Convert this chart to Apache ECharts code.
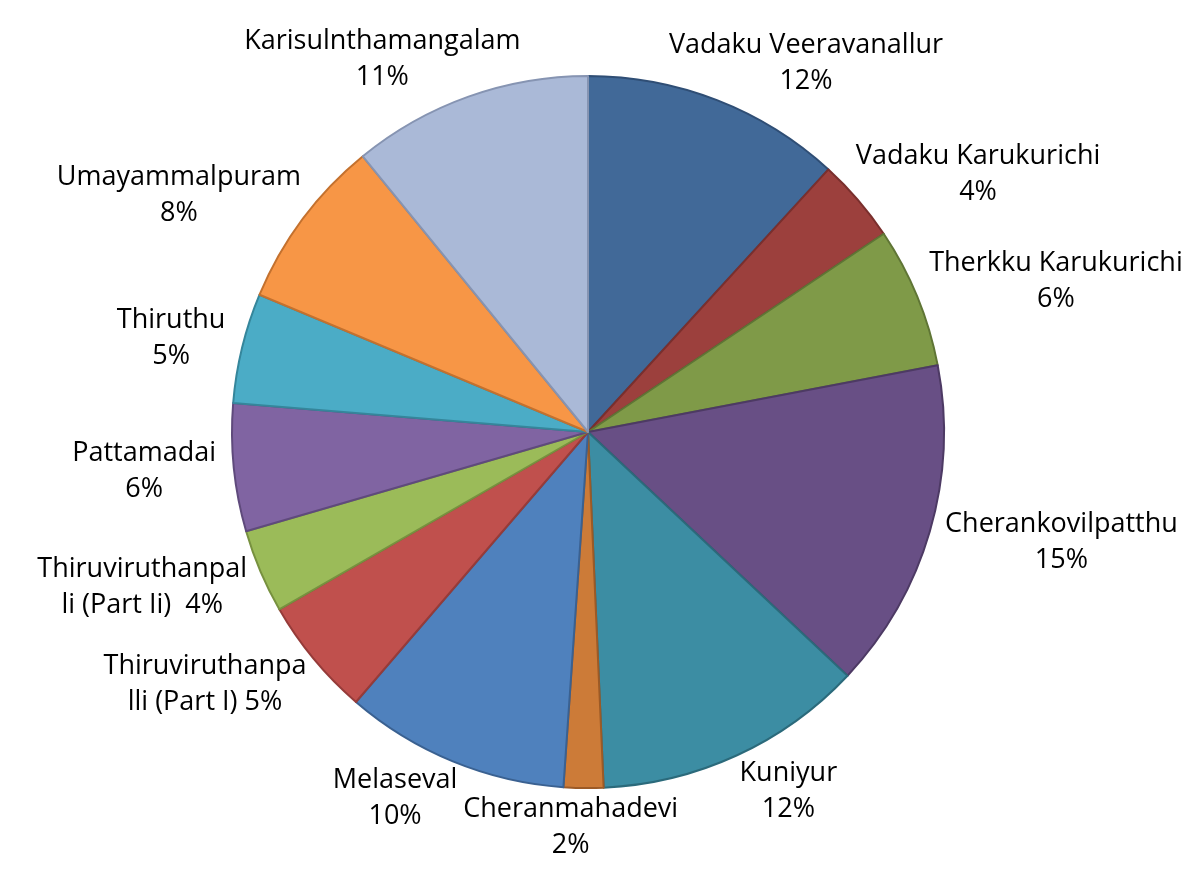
<!DOCTYPE html>
<html>
<head>
<meta charset="utf-8">
<script src="https://cdn.jsdelivr.net/npm/echarts@6/dist/echarts.min.js"></script>
<style>
html,body{margin:0;padding:0;background:#fff;}
#chart{width:1200px;height:884px;}
</style>
</head>
<body>
<div id="chart"></div>
<script>
// Categories (clockwise from 12 o'clock)
var categories = [
  'Vadaku Veeravanallur',
  'Vadaku Karukurichi',
  'Therkku Karukurichi',
  'Cherankovilpatthu',
  'Kuniyur',
  'Cheranmahadevi',
  'Melaseval',
  'Thiruviruthanpalli (Part I)',
  'Thiruviruthanpalli (Part Ii)',
  'Pattamadai',
  'Thiruthu',
  'Umayammalpuram',
  'Karisulnthamangalam'
];
// Share of each village (%)
var shares = [11.8, 3.8, 6.4, 15.0, 12.3, 1.8, 10.2, 5.4, 3.8, 5.8, 5.0, 7.8, 10.9];

var fills = ['#416998', '#9C403D', '#7F9A48', '#684F85', '#3C8DA3', '#CC7B38', '#4F81BD',
             '#C0504D', '#9BBB59', '#8064A2', '#4BACC6', '#F79646', '#AAB9D7'];
var borders = ['#2F4E75', '#7A2F2D', '#5F7535', '#4D3A64', '#2B6A7B', '#9C5A26', '#3A6191',
               '#963B39', '#77913F', '#5F4A7C', '#35869B', '#C4712E', '#8694B2'];

// wrapped display names as in the original labels
var wrapped = {
  'Thiruviruthanpalli (Part I)': 'Thiruviruthanpa\nlli (Part I) ',
  'Thiruviruthanpalli (Part Ii)': 'Thiruviruthanpal\nli (Part Ii)  '
};

var CX = 588, CY = 432, R = 356, GAP = 18;
var total = shares.reduce(function (a, b) { return a + b; }, 0);
var cum = [];
(function () { var s = 0; for (var i = 0; i < shares.length; i++) { cum.push(s); s += shares[i]; } })();

var data = categories.map(function (c, i) {
  return {
    name: c,
    value: shares[i],
    itemStyle: { color: fills[i], borderColor: borders[i], borderWidth: 2 }
  };
});

var chart = echarts.init(document.getElementById('chart'), null, { renderer: 'canvas' });
chart.setOption({
  backgroundColor: '#ffffff',
  animation: false,
  series: [{
    type: 'pie',
    center: [CX, CY],
    radius: [0, R],
    startAngle: 90,
    clockwise: true,
    avoidLabelOverlap: false,
    data: data,
    label: {
      show: true,
      position: 'outside',
      fontFamily: 'Open Sans',
      fontSize: 27,
      lineHeight: 36,
      color: '#000000',
      formatter: function (p) {
        var pct = Math.round(p.percent) + '%';
        if (wrapped[p.name]) return wrapped[p.name] + pct;
        return p.name + '\n' + pct;
      }
    },
    labelLine: { show: false },
    labelLayout: function (p) {
      var i = p.dataIndex;
      var mid = (cum[i] + shares[i] / 2) / total * Math.PI * 2;
      var ux = Math.sin(mid), uy = -Math.cos(mid);
      var w = p.labelRect.width, h = p.labelRect.height;
      var sx = ux >= 0 ? Math.sqrt(ux) : -Math.sqrt(-ux);
      var down = Math.max(uy, 0);
      var gx = GAP + 45 * Math.pow(down, 4);
      return {
        x: CX + (R + gx) * ux + w / 2 * sx,
        y: CY + (R + GAP) * uy + h / 2 * 0.6 * uy,
        align: 'center',
        verticalAlign: 'middle'
      };
    }
  }]
});
</script>
</body>
</html>
